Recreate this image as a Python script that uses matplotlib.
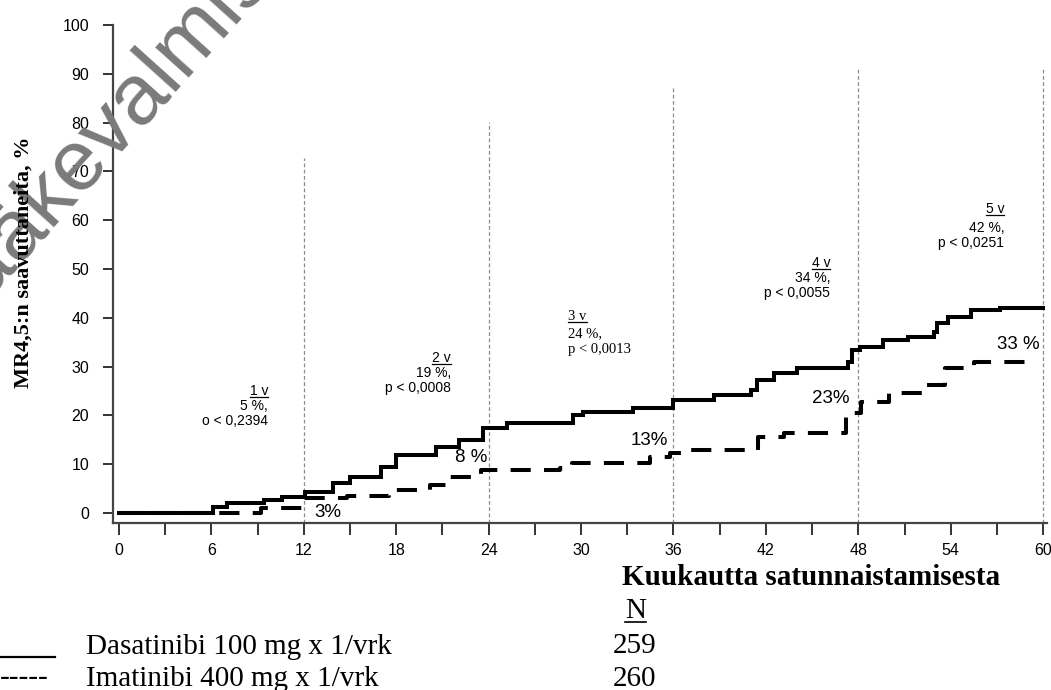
import matplotlib
matplotlib.use("Agg")
import matplotlib.pyplot as plt
from matplotlib.lines import Line2D

# ---------------- data ----------------
months_dasa = [0, 6.1, 7.0, 9.4, 10.6, 12.1, 13.9, 15.0, 17.0, 18.0, 20.6, 22.1, 23.6, 25.2,
               29.5, 30.1, 33.4, 36.0, 38.6, 41.0, 41.4, 42.5, 44.0, 47.3, 47.6, 48.1, 49.6,
               51.2, 52.9, 53.1, 53.8, 55.3, 57.2, 60.0]
rate_dasa = [0, 1.2, 2.0, 2.7, 3.3, 4.3, 6.1, 7.4, 9.4, 11.9, 13.5, 15.0, 17.4, 18.4,
             20.1, 20.7, 21.5, 23.2, 24.2, 25.2, 27.3, 28.7, 29.7, 31.0, 33.4, 34.0, 35.5,
             36.0, 37.0, 38.9, 40.2, 41.6, 42.0, 42.0]

months_ima = [0, 9.2, 12.0, 14.8, 17.5, 20.2, 21.5, 23.5, 28.6, 29.4, 34.5, 35.8, 36.5,
              41.5, 43.2, 47.2, 48.2, 50.0, 52.3, 53.6, 55.5, 59.5]
rate_ima = [0, 1.0, 3.0, 3.5, 4.7, 5.7, 7.4, 8.8, 9.2, 10.2, 11.5, 12.3, 12.9,
            15.6, 16.4, 20.5, 22.7, 24.6, 26.2, 29.7, 31.0, 31.0]

year_months = [12, 24, 36, 48, 60]
year_line_tops = [72.7, 80.1, 87.1, 91.4, 91.4]

year_labels = ["1 v", "2 v", "3 v", "4 v", "5 v"]
year_pcts = ["5 %,", "19 %,", "24 %,", "34 %,", "42 %,"]
year_pvals = ["o < 0,2394", "p < 0,0008", "p < 0,0013", "p < 0,0055", "p < 0,0251"]

ima_labels = ["3%", "8 %", "13%", "23%", "33 %"]

xticks_major = list(range(0, 61, 6))
xticks_minor = list(range(3, 61, 6))
yticks = list(range(0, 101, 10))

series_names = ["Dasatinibi 100 mg x 1/vrk", "Imatinibi 400 mg x 1/vrk"]
series_n = ["259", "260"]

# ---------------- figure ----------------
W, H = 1051, 690
fig = plt.figure(figsize=(W / 100, H / 100), dpi=100)
fig.patch.set_facecolor("white")

# watermark
fig.text(-45 / W, 1 - 338 / H, "Lääkevalmisteella ei enää myyntilupaa",
         fontsize=62, family="Liberation Sans", color="#7a7a7a",
         rotation=48, rotation_mode="anchor", ha="left", va="baseline", zorder=0)

ax = fig.add_axes([113 / W, 1 - 523 / H, (1047 - 113) / W, (523 - 25) / H])
ax.set_facecolor("none")
ax.set_xlim(-0.39, 60.25)
ax.set_ylim(-2.05, 100)

for s in ["top", "right"]:
    ax.spines[s].set_visible(False)
for s in ["left", "bottom"]:
    ax.spines[s].set_color("#444444")
    ax.spines[s].set_linewidth(1.6)

tickfont = ["Liberation Sans", "DejaVu Sans"]
ax.set_xticks(xticks_major)
ax.set_xticks(xticks_minor, minor=True)
ax.set_yticks(yticks)
ax.set_xticklabels([str(v) for v in xticks_major], family=tickfont, fontsize=11.5)
ax.set_yticklabels([str(v) for v in yticks], family=tickfont, fontsize=11.5)
ax.tick_params(axis="x", which="both", direction="out", length=8.5, width=1.4,
               color="#333333", pad=6)
ax.tick_params(axis="y", which="both", direction="out", length=7.2, width=1.4,
               color="#333333", pad=10)

# vertical year lines
for xm, top in zip(year_months, year_line_tops):
    ax.plot([xm, xm], [-2.05, top], color="#8c8c8c", lw=0.9,
            linestyle=(0, (3, 2)), zorder=1, clip_on=False)

# curves
ax.step(months_dasa, rate_dasa, where="post", color="black", lw=2.9,
        solid_joinstyle="miter", zorder=3)
ax.step(months_ima, rate_ima, where="post", color="black", lw=2.9,
        linestyle=(0, (5, 3.3)), dash_capstyle="butt", zorder=3)

# year annotations
ann_x = [9.68, 21.56, 29.16, 46.17, 57.47]
ann_y = [[24.2, 21.1, 18.0], [30.9, 27.9, 24.8], [39.5, 36.1, 32.8],
         [50.4, 47.3, 44.3], [61.5, 57.6, 54.5]]
ann_ha = ["right", "right", "left", "right", "right"]
ann_font = ["Liberation Sans", "Liberation Sans", "Liberation Serif",
            "Liberation Sans", "Liberation Sans"]
ann_size = [10, 10, 10.5, 10, 10]
underline_items = []
for i in range(5):
    t = ax.text(ann_x[i], ann_y[i][0], year_labels[i], ha=ann_ha[i], va="baseline",
                family=ann_font[i], fontsize=ann_size[i], color="black")
    underline_items.append((t, ann_y[i][0]))
    ax.text(ann_x[i], ann_y[i][1], year_pcts[i], ha=ann_ha[i], va="baseline",
            family=ann_font[i], fontsize=ann_size[i], color="black")
    ax.text(ann_x[i], ann_y[i][2], year_pvals[i], ha=ann_ha[i], va="baseline",
            family=ann_font[i], fontsize=ann_size[i], color="black")

# imatinib percentage labels
ima_lx = [12.7, 21.8, 33.2, 45.0, 57.0]
ima_ly = [0.0, 11.3, 14.9, 23.4, 34.6]
for lab, x, y in zip(ima_labels, ima_lx, ima_ly):
    ax.text(x, y, lab, ha="left", va="center", family=tickfont, fontsize=13.5,
            color="black", zorder=4)

# y label
fig.text(24 / W, 1 - 136 / H, "MR4,5:n saavuttaneita, %", rotation=90,
         ha="center", va="top", family="Liberation Serif", weight="bold",
         fontsize=16)

# x label
fig.text(622 / W, 1 - 585 / H, "Kuukautta satunnaistamisesta", ha="left",
         va="baseline", family="Liberation Serif", weight="bold", fontsize=21)

# legend block
serif = "Liberation Serif"
nlab = fig.text(625 / W, 1 - 618 / H, "N", ha="left", va="baseline", family=serif,
                fontsize=21)
fig.text(86 / W, 1 - 654 / H, series_names[0], ha="left", va="baseline",
         family=serif, fontsize=21)
fig.text(86 / W, 1 - 686 / H, series_names[1], ha="left", va="baseline",
         family=serif, fontsize=21)
fig.text(613 / W, 1 - 653 / H, series_n[0], ha="left", va="baseline",
         family=serif, fontsize=21)
fig.text(613 / W, 1 - 686 / H, series_n[1], ha="left", va="baseline",
         family=serif, fontsize=21)
fig.add_artist(Line2D([0, 55 / W], [1 - 657 / H, 1 - 657 / H], color="black",
                      lw=1.6, transform=fig.transFigure))
fig.text(0, 1 - 685 / H, "-----", ha="left", va="baseline", family=serif,
         fontsize=21)

# underlines
fig.canvas.draw()
r = fig.canvas.get_renderer()
for t, ybase in underline_items:
    bb = t.get_window_extent(r)
    ypix = ax.transData.transform((0, ybase))[1] - 2
    fig.add_artist(Line2D([bb.x0 / W, bb.x1 / W], [ypix / H, ypix / H],
                          color="black", lw=0.9, transform=fig.transFigure))
bb = nlab.get_window_extent(r)
fig.add_artist(Line2D([bb.x0 / W, bb.x1 / W], [1 - 622 / H, 1 - 622 / H],
                      color="black", lw=1.2, transform=fig.transFigure))

fig.savefig("out.png", dpi=100, facecolor="white")
